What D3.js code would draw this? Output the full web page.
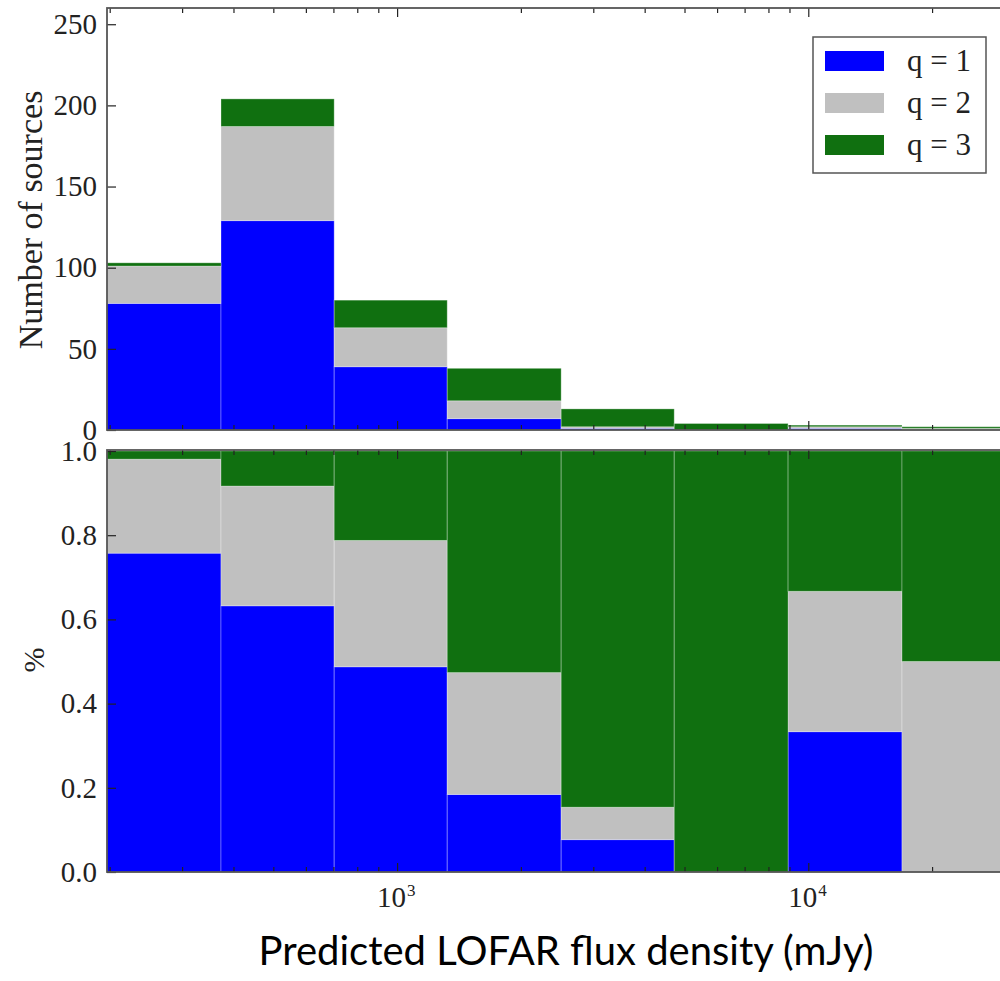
<!DOCTYPE html>
<html>
<head>
<meta charset="utf-8">
<script src="https://cdn.jsdelivr.net/npm/d3@7"></script>
<style>
  body { margin: 0; background: #fff; }
  svg { display: block; }
  .domain { display: none; }
  .tick line { stroke: #222; stroke-width: 1.2; }
</style>
</head>
<body>
<svg id="vis" width="1000" height="981"></svg>
<script>
// bin edges in mJy (log spaced) and counts per quality class
const edges = [197, 373, 703, 1324, 2506, 4720, 8930, 16900, 32000];
const q1 = [78, 129, 39, 7, 1, 0, 1, 0];
const q2 = [23, 58, 24, 11, 1, 0, 1, 1];
const q3 = [2, 17, 17, 20, 11, 4, 1, 1];
const labels = ["q = 1", "q = 2", "q = 3"];
const colors = ["#0000ff", "#c0c0c0", "#107010"];
const countTicks = [0, 50, 100, 150, 200, 250];
const fracTicks = [0, 0.2, 0.4, 0.6, 0.8, 1.0];

const svg = d3.select("svg#vis");
const left = 107, right = 1016;

const x = d3.scaleLog().domain([edges[0], edges[edges.length - 1]]).range([left, right]);
const yTop = d3.scaleLinear().domain([0, 260]).range([430, 8]);
const yBot = d3.scaleLinear().domain([0, 1]).range([872, 451]);

const rows = q1.map((d, i) => ({ i: i, x0: edges[i], x1: edges[i + 1], q1: q1[i], q2: q2[i], q3: q3[i] }));
const keys = ["q1", "q2", "q3"];
const stackCounts = d3.stack().keys(keys)(rows);
const stackFrac = d3.stack().keys(keys).offset(d3.stackOffsetExpand)(rows);

function drawBars(g, series, y) {
  series.forEach(function(s, k) {
    g.append("g").selectAll("rect")
      .data(s.filter(d => d[1] - d[0] > 0))
      .enter().append("rect")
      .attr("x", d => x(d.data.x0))
      .attr("width", d => x(d.data.x1) - x(d.data.x0))
      .attr("y", d => y(d[1]))
      .attr("height", d => y(d[0]) - y(d[1]))
      .attr("fill", colors[k])
      .attr("stroke", "rgba(255,255,255,0.3)")
      .attr("stroke-width", 1);
  });
}

const minor = [];
[100, 1000, 10000].forEach(function(b) {
  for (let m = 2; m <= 9; m++) {
    const v = b * m;
    if (v >= edges[0] && v <= edges[edges.length - 1]) minor.push(v);
  }
});
const major = [1000, 10000];

function drawFrame(g, y, top, bottom, ticks, fmt) {
  // x ticks, inward, on bottom and top
  g.append("g").attr("transform", "translate(0," + bottom + ")")
    .call(d3.axisBottom(x).tickValues(minor).tickSize(-5).tickFormat(""));
  g.append("g").attr("transform", "translate(0," + bottom + ")")
    .call(d3.axisBottom(x).tickValues(major).tickSize(-9).tickFormat(""));
  g.append("g").attr("transform", "translate(0," + top + ")")
    .call(d3.axisTop(x).tickValues(minor).tickSize(-5).tickFormat(""));
  g.append("g").attr("transform", "translate(0," + top + ")")
    .call(d3.axisTop(x).tickValues(major).tickSize(-9).tickFormat(""));
  const ya = g.append("g").attr("transform", "translate(" + left + ",0)")
    .call(d3.axisLeft(y).tickValues(ticks).tickSize(-9).tickPadding(10).tickFormat(fmt));
  ya.selectAll("text")
    .style("font-family", "Liberation Serif, serif")
    .style("font-size", "29px")
    .style("fill", "#222");
  g.append("rect")
    .attr("x", left).attr("y", top)
    .attr("width", right - left).attr("height", bottom - top)
    .attr("fill", "none").attr("stroke", "#555").attr("stroke-width", 1.8);
}

// top panel: counts
const gTop = svg.append("g");
drawBars(gTop, stackCounts, yTop);
drawFrame(gTop, yTop, 8, 430, countTicks, d3.format("d"));

// bottom panel: fractions
const gBot = svg.append("g");
drawBars(gBot, stackFrac, yBot);
drawFrame(gBot, yBot, 450, 872, fracTicks, d3.format(".1f"));

// x tick labels
gBot.selectAll("text.xlab")
  .data(major)
  .enter().append("text")
  .attr("class", "xlab")
  .attr("x", d => x(d) - 20)
  .attr("y", 907)
  .style("font-family", "Liberation Serif, serif")
  .style("font-size", "29px")
  .style("fill", "#222")
  .each(function(d) {
    const t = d3.select(this);
    t.append("tspan").text("10");
    t.append("tspan").attr("dy", -11).attr("dx", 1).style("font-size", "17px").text(Math.round(Math.log10(d)));
  });

// axis titles
svg.append("text")
  .attr("transform", "translate(42,220) rotate(-90)")
  .attr("text-anchor", "middle")
  .style("font-family", "Liberation Serif, serif")
  .style("font-size", "34px")
  .style("fill", "#222")
  .text("Number of sources");

svg.append("text")
  .attr("transform", "translate(44,660) rotate(-90)")
  .attr("text-anchor", "middle")
  .style("font-family", "Liberation Serif, serif")
  .style("font-size", "30px")
  .style("fill", "#222")
  .text("%");

svg.append("text")
  .attr("x", 566)
  .attr("y", 965)
  .attr("text-anchor", "middle")
  .style("font-family", "Lato, sans-serif")
  .style("font-size", "40px")
  .style("fill", "#000")
  .text("Predicted LOFAR flux density (mJy)");

// legend
const legend = svg.append("g").attr("transform", "translate(813,37)");
legend.append("rect")
  .attr("width", 173).attr("height", 136)
  .attr("fill", "#fff").attr("stroke", "#555").attr("stroke-width", 1.5);
const items = legend.selectAll("g.item")
  .data(labels)
  .enter().append("g")
  .attr("class", "item")
  .attr("transform", (d, i) => "translate(0," + (14 + i * 42) + ")");
items.append("rect")
  .attr("x", 12).attr("width", 59).attr("height", 20)
  .attr("fill", (d, i) => colors[i]);
items.append("text")
  .attr("x", 94).attr("y", 20)
  .style("font-family", "Liberation Serif, serif")
  .style("font-size", "31px")
  .style("fill", "#222")
  .text(d => d);
</script>
</body>
</html>
